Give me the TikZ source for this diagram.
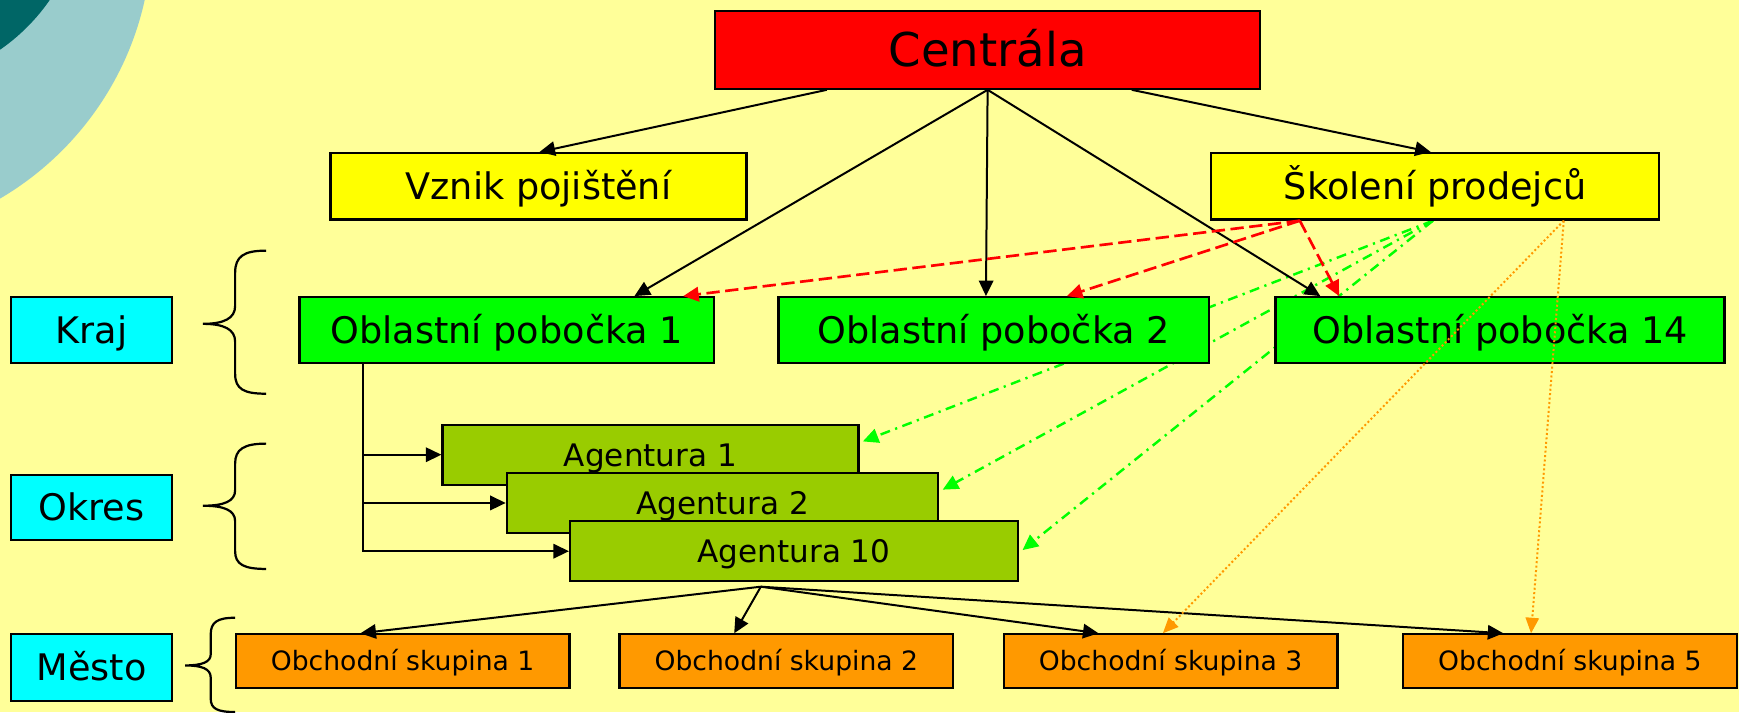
\documentclass[tikz,border=0pt]{standalone}
\usepackage{fontspec}
\setmainfont{DejaVu Sans}
\usetikzlibrary{arrows.meta,calc}
\pgfdeclarelayer{back}
\pgfdeclarelayer{bg}
\pgfsetlayers{back,bg,main}
\definecolor{bgyellow}{HTML}{FFFF99}
\definecolor{teallight}{HTML}{99CCCC}
\definecolor{tealdark}{HTML}{006666}
\definecolor{boxred}{HTML}{FF0000}
\definecolor{boxyellow}{HTML}{FFFF00}
\definecolor{boxgreen}{HTML}{00FF00}
\definecolor{boxcyan}{HTML}{00FFFF}
\definecolor{boxolive}{HTML}{99CC00}
\definecolor{boxorange}{HTML}{FF9900}
\begin{document}
\begin{tikzpicture}[x=0.5pt,y=-0.5pt,
  box/.style={draw=black, line width=1pt, inner sep=0pt, align=center, text depth=0pt},
  cenbox/.style={box, fill=boxred, minimum width=245.5pt, minimum height=35pt, text height=15.3pt, font=\fontsize{21}{25}\selectfont},
  topbox/.style={box, fill=boxyellow, minimum height=30pt, text height=12pt, font=\fontsize{16.5}{20}\selectfont},
  oblbox/.style={box, fill=boxgreen, minimum height=29.5pt, text height=12pt, font=\fontsize{16.5}{20}\selectfont},
  labbox/.style={box, fill=boxcyan, minimum width=72.5pt, minimum height=29.5pt, text height=12pt, font=\fontsize{16.5}{20}\selectfont},
  agbox/.style={box, fill=boxolive, minimum height=27pt, text height=10.2pt, font=\fontsize{14}{17}\selectfont},
  osbox/.style={box, fill=boxorange, minimum width=150.5pt, minimum height=24pt, text height=8.75pt, font=\fontsize{12}{14}\selectfont},
  blk/.style={draw=black, line width=0.9pt, -{Triangle[length=7pt,width=6.5pt]}},
  reddash/.style={draw=boxred, line width=1.2pt, dash pattern=on 6pt off 2.5pt, -{Triangle[length=7pt,width=6.5pt]}},
  grndash/.style={draw=boxgreen, line width=1.1pt, dash pattern=on 4.5pt off 2.5pt on 1pt off 2.5pt, -{Triangle[length=7pt,width=6.5pt]}},
  orgdot/.style={draw=boxorange, line width=0.9pt, dash pattern=on 0.9pt off 1.1pt, -{Triangle[length=7pt,width=6pt]}},
  bracestyle/.style={draw=black, line width=1pt}
]
\useasboundingbox (0,0) rectangle (1568,642);
\begin{pgfonlayer}{back}
  \clip (0,0) rectangle (1568,642);
  \fill[bgyellow] (0,0) rectangle (1568,642);
  \fill[teallight] (-140,-60) circle[radius=138.5pt];
  \fill[tealdark] (-100,-100) circle[radius=88pt];
\end{pgfonlayer}

% nodes
\node[cenbox] (cen) at (890.5,45) {Centrála};
\node[topbox, minimum width=187.5pt] (vz) at (485.5,168) {Vznik pojištění};
\node[topbox, minimum width=202pt] (sk) at (1294,168) {Školení prodejců};
\node[oblbox, minimum width=187pt] (ob1) at (457,297.5) {Oblastní pobočka 1};
\node[oblbox, minimum width=194pt] (ob2) at (896,297.5) {Oblastní pobočka 2};
\node[oblbox, minimum width=202.5pt] (ob14) at (1352.5,297.5) {Oblastní pobočka 14};
\node[labbox] (kraj) at (82.5,297.5) {Kraj};
\node[labbox] (okres) at (82.5,457.5) {Okres};
\node[labbox, minimum height=30pt] (mesto) at (82.5,602) {Město};
\node[agbox, minimum width=187.5pt] (ag1) at (586.5,410) {Agentura 1};
\node[agbox, minimum width=194.5pt] (ag2) at (651.5,453.5) {Agentura 2};
\node[agbox, minimum width=202pt] (ag10) at (716,497) {Agentura 10};
\node[osbox] (os1) at (363,596) {Obchodní skupina 1};
\node[osbox] (os2) at (709,596) {Obchodní skupina 2};
\node[osbox] (os3) at (1055.5,596) {Obchodní skupina 3};
\node[osbox] (os5) at (1415.5,596) {Obchodní skupina 5};

% braces
\draw[bracestyle] (240,226) .. controls (220,226) and (212,231) .. (212,246) -- (212,276)
  .. controls (212,287) and (202,292) .. (183,292)
  .. controls (202,292) and (212,297) .. (212,308) -- (212,337)
  .. controls (212,351) and (220,355) .. (240,355);
\draw[bracestyle] (240,400) .. controls (220,400) and (212,405) .. (212,418) -- (212,442)
  .. controls (212,452) and (202,456) .. (183,456)
  .. controls (202,456) and (212,460) .. (212,470) -- (212,497)
  .. controls (212,509) and (220,513) .. (240,513);
\draw[bracestyle] (212,557) .. controls (196,557) and (190,561) .. (190,572) -- (190,590)
  .. controls (190,597) and (182,600) .. (167,600)
  .. controls (182,600) and (190,603) .. (190,611) -- (190,630)
  .. controls (190,639) and (196,642) .. (212,642);

% green dash-dot (behind boxes)
\coordinate (gs) at ($(sk.south)+(-2,0)$);
\begin{pgfonlayer}{bg}
  \draw[grndash] (gs) -- ($(ag1.east)+(3,-12)$);
  \draw[grndash] (gs) -- ($(ag2.east)+(3,-12)$);
  \draw[grndash] (gs) -- ($(ag10.east)+(3,-1)$);
\end{pgfonlayer}

% black connectors
\draw[blk] ($(cen.south)+(-145,0)$) -- ($(vz.north)+(1,0)$);
\draw[blk] ($(cen.south)+(130,0)$) -- ($(sk.north)+(-4,0)$);
\draw[blk] (cen.south) -- ($(ob1.north)+(115,0)$);
\draw[blk] (cen.south) -- ($(ob2.north)+(-7,0)$);
\draw[blk] (cen.south) -- ($(ob14.north)+(-162,0)$);

\coordinate (trunk) at ($(ob1.south)+(-130,0)$);
\draw[blk] (trunk) |- (ag10.west);
\draw[blk] (trunk |- ag1.west) -- (ag1.west);
\draw[blk] (trunk |- ag2.west) -- (ag2.west);

\coordinate (hub) at ($(ag10.south)+(-30,4)$);
\draw[blk] (hub) -- ($(os1.north)+(-38,0)$);
\draw[blk] (hub) -- ($(os2.north)+(-47,0)$);
\draw[blk] (hub) -- ($(os3.north)+(-65,0)$);
\draw[blk] (hub) -- ($(os5.north)+(-60,0)$);

% red dashed
\coordinate (rs) at ($(sk.south)+(-122,0)$);
\draw[reddash] (rs) -- ($(ob1.north east)+(-29,0)$);
\draw[reddash] (rs) -- ($(ob2.north)+(66,0)$);
\draw[reddash] (rs) -- ($(ob14.north)+(-145,0)$);

% orange dotted
\coordinate (ors) at ($(sk.south)+(116,0)$);
\draw[orgdot] (ors) -- ($(os3.north)+(-7,0)$);
\draw[orgdot] (ors) -- ($(os5.north)+(-35,0)$);
\end{tikzpicture}
\end{document}
